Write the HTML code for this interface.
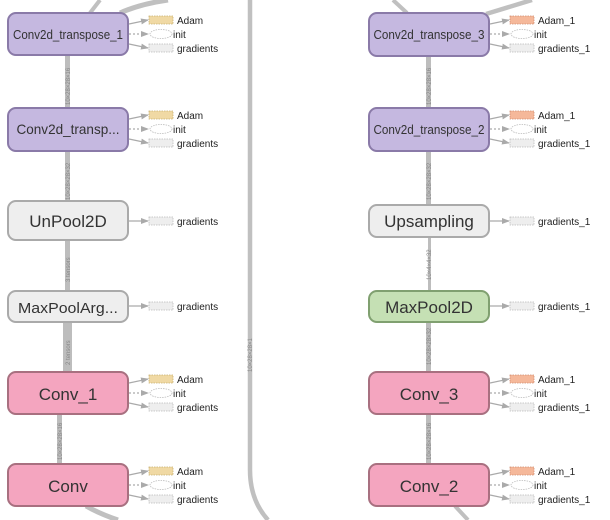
<!DOCTYPE html>
<html><head><meta charset="utf-8"><style>
html,body{margin:0;padding:0;background:#fff;}
svg{display:block;font-family:"Liberation Sans",Roboto,sans-serif;}
</style></head><body>
<svg width="610" height="520" viewBox="0 0 610 520" xmlns="http://www.w3.org/2000/svg">
<defs>
<marker id="ah" markerWidth="8" markerHeight="8" refX="7" refY="4" orient="auto" markerUnits="userSpaceOnUse">
<path d="M0,1 L8,4 L0,7 z" fill="#aaa"/></marker>
</defs>
<g fill="none" stroke="#c0c0c0">
<path d="M250 0 L250 470 Q250 500 268 520" stroke-width="4.5"/>
<path d="M120 13 Q140 4 168 0" stroke-width="5"/>
<path d="M90 13 L100 0" stroke-width="4"/>
<path d="M86 506 Q100 514 118 520" stroke-width="5"/>
<path d="M407 13 L393 0" stroke-width="4"/>
<path d="M486 14 L532 0" stroke-width="4.5"/>
<path d="M455 506 L468 520" stroke-width="4"/>
</g>
<g fill="#bdbdbd">
<rect x="65" y="55" width="5" height="52"/>
<rect x="65" y="151" width="5" height="50"/>
<rect x="65" y="240" width="5" height="51"/>
<rect x="63" y="322" width="9" height="50"/>
<rect x="57" y="414" width="5" height="50"/>
<rect x="426" y="56" width="5" height="51"/>
<rect x="426" y="151" width="5" height="54"/>
<rect x="428" y="237" width="3" height="54"/>
<rect x="426" y="322" width="5" height="50"/>
<rect x="426" y="414" width="5" height="50"/>
</g>
<g font-size="6" fill="#888">
<text transform="translate(70,105) rotate(-90)">10×28×28×16</text>
<text transform="translate(70,200) rotate(-90)">10×28×28×32</text>
<text transform="translate(70,282) rotate(-90)">3 tensors</text>
<text transform="translate(70,365) rotate(-90)">2 tensors</text>
<text transform="translate(62,460) rotate(-90)">10×28×28×16</text>
<text transform="translate(431,105) rotate(-90)">10×28×28×16</text>
<text transform="translate(431,200) rotate(-90)">10×28×28×32</text>
<text transform="translate(431,280) rotate(-90)">10×4×4×32</text>
<text transform="translate(431,365) rotate(-90)">10×28×28×32</text>
<text transform="translate(431,460) rotate(-90)">10×28×28×16</text>
<text transform="translate(252,372) rotate(-90)">10×28×28×1</text>
</g>
<g stroke-width="2">
<rect x="8" y="13" width="120" height="42" rx="8" fill="#c5b8e0" stroke="#8a7aa8"/>
<rect x="8" y="108" width="120" height="43" rx="8" fill="#c5b8e0" stroke="#8a7aa8"/>
<rect x="8" y="201" width="120" height="39" rx="8" fill="#eeeeee" stroke="#aaaaaa"/>
<rect x="8" y="291" width="120" height="31" rx="8" fill="#eeeeee" stroke="#aaaaaa"/>
<rect x="8" y="372" width="120" height="42" rx="8" fill="#f4a5bf" stroke="#a87080"/>
<rect x="8" y="464" width="120" height="42" rx="8" fill="#f4a5bf" stroke="#a87080"/>
<rect x="369" y="13" width="120" height="43" rx="8" fill="#c5b8e0" stroke="#8a7aa8"/>
<rect x="369" y="108" width="120" height="43" rx="8" fill="#c5b8e0" stroke="#8a7aa8"/>
<rect x="369" y="205" width="120" height="32" rx="8" fill="#eeeeee" stroke="#aaaaaa"/>
<rect x="369" y="291" width="120" height="31" rx="8" fill="#c5e0b4" stroke="#80a070"/>
<rect x="369" y="372" width="120" height="42" rx="8" fill="#f4a5bf" stroke="#a87080"/>
<rect x="369" y="464" width="120" height="42" rx="8" fill="#f4a5bf" stroke="#a87080"/>
</g>
<g fill="#333" text-anchor="middle">
<text x="68" y="39" font-size="12.5" textLength="110" lengthAdjust="spacingAndGlyphs">Conv2d_transpose_1</text>
<text x="68" y="134" font-size="14" textLength="103" lengthAdjust="spacingAndGlyphs">Conv2d_transp...</text>
<text x="68" y="227" font-size="17">UnPool2D</text>
<text x="68" y="313" font-size="15" textLength="100" lengthAdjust="spacingAndGlyphs">MaxPoolArg...</text>
<text x="68" y="400" font-size="17">Conv_1</text>
<text x="68" y="492" font-size="17">Conv</text>
<text x="429" y="39" font-size="12.5" textLength="111" lengthAdjust="spacingAndGlyphs">Conv2d_transpose_3</text>
<text x="429" y="134" font-size="12.5" textLength="111" lengthAdjust="spacingAndGlyphs">Conv2d_transpose_2</text>
<text x="429" y="227" font-size="17">Upsampling</text>
<text x="429" y="313" font-size="17">MaxPool2D</text>
<text x="429" y="400" font-size="17">Conv_3</text>
<text x="429" y="492" font-size="17">Conv_2</text>
</g>
<g id="s3">
<line x1="129" y1="24" x2="148" y2="20" stroke="#aaa" stroke-width="1.2" marker-end="url(#ah)"/>
<line x1="129" y1="34" x2="148" y2="34" stroke="#aaa" stroke-width="1.2" stroke-dasharray="2,2" marker-end="url(#ah)"/>
<line x1="129" y1="44" x2="148" y2="48" stroke="#aaa" stroke-width="1.2" marker-end="url(#ah)"/>
<rect x="149" y="16" width="24" height="8" fill="#f0d9a4" stroke="#c8b070" stroke-width="0.8" stroke-dasharray="1.5,1"/>
<ellipse cx="161" cy="34" rx="11" ry="4.5" fill="#fff" stroke="#bbb" stroke-width="0.8" stroke-dasharray="1.5,1"/>
<rect x="149" y="44" width="24" height="8" fill="#eee" stroke="#bbb" stroke-width="0.8" stroke-dasharray="1.5,1"/>
</g>
<use href="#s3" y="95"/>
<use href="#s3" y="359"/>
<use href="#s3" y="451"/>
<g id="s3r">
<line x1="490" y1="24" x2="509" y2="20" stroke="#aaa" stroke-width="1.2" marker-end="url(#ah)"/>
<line x1="490" y1="34" x2="509" y2="34" stroke="#aaa" stroke-width="1.2" stroke-dasharray="2,2" marker-end="url(#ah)"/>
<line x1="490" y1="44" x2="509" y2="48" stroke="#aaa" stroke-width="1.2" marker-end="url(#ah)"/>
<rect x="510" y="16" width="24" height="8" fill="#f5b89a" stroke="#d08c70" stroke-width="0.8" stroke-dasharray="1.5,1"/>
<ellipse cx="522" cy="34" rx="11" ry="4.5" fill="#fff" stroke="#bbb" stroke-width="0.8" stroke-dasharray="1.5,1"/>
<rect x="510" y="44" width="24" height="8" fill="#eee" stroke="#bbb" stroke-width="0.8" stroke-dasharray="1.5,1"/>
</g>
<use href="#s3r" y="95"/>
<use href="#s3r" y="359"/>
<use href="#s3r" y="451"/>
<g id="s1">
<line x1="129" y1="221" x2="148" y2="221" stroke="#aaa" stroke-width="1.2" marker-end="url(#ah)"/>
<rect x="149" y="217" width="24" height="8" fill="#eee" stroke="#bbb" stroke-width="0.8" stroke-dasharray="1.5,1"/>
</g>
<use href="#s1" y="85"/>
<use href="#s1" x="361"/>
<use href="#s1" x="361" y="85"/>
<g font-size="10" fill="#222">
<text x="177" y="24">Adam</text><text x="173" y="38">init</text><text x="177" y="52">gradients</text>
<text x="177" y="119">Adam</text><text x="173" y="133">init</text><text x="177" y="147">gradients</text>
<text x="177" y="225">gradients</text>
<text x="177" y="310">gradients</text>
<text x="177" y="383">Adam</text><text x="173" y="397">init</text><text x="177" y="411">gradients</text>
<text x="177" y="475">Adam</text><text x="173" y="489">init</text><text x="177" y="503">gradients</text>
<text x="538" y="24">Adam_1</text><text x="534" y="38">init</text><text x="538" y="52">gradients_1</text>
<text x="538" y="119">Adam_1</text><text x="534" y="133">init</text><text x="538" y="147">gradients_1</text>
<text x="538" y="225">gradients_1</text>
<text x="538" y="310">gradients_1</text>
<text x="538" y="383">Adam_1</text><text x="534" y="397">init</text><text x="538" y="411">gradients_1</text>
<text x="538" y="475">Adam_1</text><text x="534" y="489">init</text><text x="538" y="503">gradients_1</text>
</g>
</svg>
</body></html>
